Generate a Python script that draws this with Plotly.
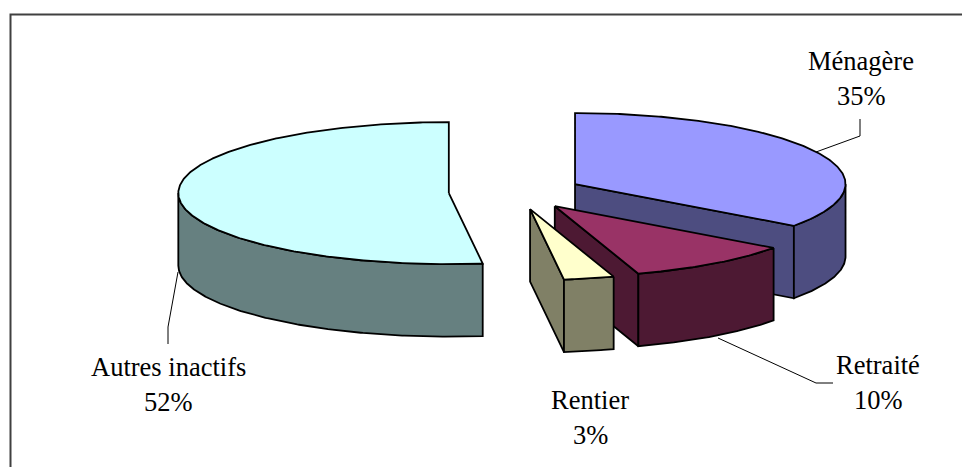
import numpy as np
import plotly.graph_objects as go

# Data
categories = ["Ménagère", "Retraité", "Rentier", "Autres inactifs"]
shares = [35, 10, 3, 52]
top_colors = ["#9999FF", "#993366", "#FFFFCC", "#CCFFFF"]
side_colors = ["#4D4D80", "#4D1933", "#808066", "#668080"]

# Projection of the tilted pie, in page pixels
W, H = 962, 467
CX, CY = 515.5, 192
A, B, DEPTH = 270.5, 71, 72.5
EXPLODE = 0.247
LINE = dict(color="#000000", width=1.8)


def rim(t0, t1, cx, cy, dy=0.0):
    """Points on the rim between two pie angles (degrees clockwise from 12 o'clock)."""
    n = max(2, int(abs(t1 - t0)) * 2)
    t = np.radians(np.linspace(t0, t1, n))
    return cx + A * np.sin(t), cy - B * np.cos(t) + dy


def poly(fig, x, y, color):
    fig.add_trace(go.Scatter(x=list(x) + [x[0]], y=list(y) + [y[0]], mode="lines", fill="toself",
                             fillcolor=color, line=LINE, hoverinfo="skip", showlegend=False))


fig = go.Figure()
total = sum(shares)
start = 0.0
for name, value, top, side in zip(categories, shares, top_colors, side_colors):
    end = start + 360.0 * value / total
    mid = np.radians((start + end) / 2)
    cx = CX + EXPLODE * A * np.sin(mid)
    cy = CY - EXPLODE * B * np.cos(mid)

    # inner cut face at the end of the slice, visible when it looks towards the viewer
    if 90 < end < 270:
        ex, ey = rim(end, end, cx, cy)
        poly(fig, [cx, ex[0], ex[0], cx], [cy, ey[0], ey[0] + DEPTH, cy + DEPTH], side)

    # outer curved wall
    a0, a1 = max(start, 90), min(end, 270)
    if a1 > a0:
        xt, yt = rim(a0, a1, cx, cy)
        xb, yb = rim(a1, a0, cx, cy, DEPTH)
        poly(fig, np.concatenate([xt, xb]), np.concatenate([yt, yb]), side)

    # top face
    xt, yt = rim(start, end, cx, cy)
    poly(fig, np.concatenate([[cx], xt]), np.concatenate([[cy], yt]), top)
    start = end

# Labels: (centre x, first line y, second line y)
label_pos = [(861, 61, 96), (878, 365, 400), (590, 400, 435), (168, 367, 402)]
annotations = []
for name, value, (lx, y1, y2) in zip(categories, shares, label_pos):
    for txt, ly in ((name, y1), (f"{value}%", y2)):
        annotations.append(dict(x=lx, y=ly, xref="x", yref="y", text=txt, showarrow=False,
                                xanchor="center", yanchor="middle",
                                font=dict(family="Liberation Serif", size=26.5, color="#000000")))

leaders = [
    "M 816 152 L 860 136 L 860 119",
    "M 718 338 L 816 383 L 833 383",
    "M 178 272 L 168 327 L 168 344",
]
shapes = [dict(type="path", path=p, line=dict(color="#000000", width=1), layer="below") for p in leaders]
shapes.append(dict(type="path", path=f"M 10.5 {H+5} L 10.5 14.5 L {W+5} 14.5",
                   line=dict(color="#404040", width=2), layer="below"))

fig.update_layout(
    width=W, height=H, margin=dict(l=0, r=0, t=0, b=0), autosize=False,
    paper_bgcolor="#FFFFFF", plot_bgcolor="#FFFFFF", showlegend=False,
    xaxis=dict(range=[0, W], visible=False, fixedrange=True),
    yaxis=dict(range=[H, 0], visible=False, fixedrange=True),
    annotations=annotations, shapes=shapes,
)
fig.write_html("out.html", config=dict(displayModeBar=False),
               post_script="document.body.style.margin='0';document.body.style.overflow='hidden';")
